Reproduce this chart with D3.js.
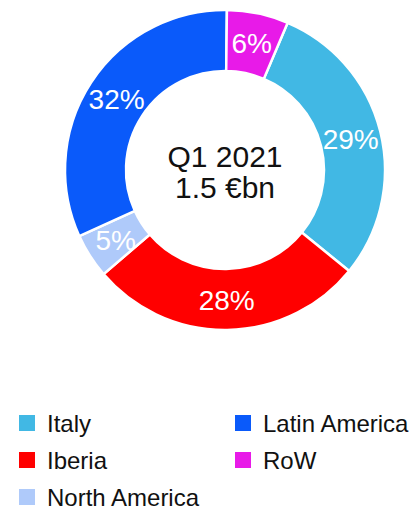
<!DOCTYPE html>
<html>
<head>
<meta charset="utf-8">
<script src="https://cdn.jsdelivr.net/npm/d3@7"></script>
<style>
  body { margin: 0; background: #fff; }
  text { font-family: "Liberation Sans", Arial, sans-serif; }
</style>
</head>
<body>
<div id="chart"></div>
<script>
// data (shares, labels as printed)
var regions = ["Italy", "Iberia", "North America", "Latin America", "RoW"];
var shares = [29.4, 27.8, 4.5, 31.9, 6.2];
var pctLabels = ["29%", "28%", "5%", "32%", "6%"];
var colors = ["#41b8e4", "#ff0000", "#afcafa", "#0a5afa", "#e81ae8"];
var centerLines = ["Q1 2021", "1.5 €bn"];

var width = 411, height = 507;
var cx = 225, cy = 170,
    outerR = 160, innerR = 99;

var svg = d3.select("#chart")
  .append("svg")
    .attr("width", width)
    .attr("height", height);

var color = d3.scaleOrdinal()
    .domain(regions)
    .range(colors);

var data = regions.map(function(r, i) {
  return {name: r, value: shares[i], label: pctLabels[i]};
});

// RoW sits at the top (just right of 12 o'clock), Italy follows it
var total = d3.sum(shares);
var offset = 0.012 + 2 * Math.PI * shares[4] / total;
var pie = d3.pie()
    .sort(null)
    .value(function(d) { return d.value; })
    .startAngle(offset)
    .endAngle(offset + 2 * Math.PI);

var arc = d3.arc()
    .innerRadius(innerR)
    .outerRadius(outerR);

var g = svg.append("g")
    .attr("transform", "translate(" + cx + "," + cy + ")");

var arcs = pie(data);

g.selectAll("path")
  .data(arcs)
  .enter().append("path")
    .attr("d", arc)
    .attr("fill", function(d) { return color(d.data.name); })
    .attr("stroke", "#fff")
    .attr("stroke-width", 2.5);

g.selectAll("text.pct")
  .data(arcs)
  .enter().append("text")
    .attr("class", "pct")
    .attr("transform", function(d) { return "translate(" + arc.centroid(d) + ")"; })
    .attr("dy", "0.36em")
    .attr("text-anchor", "middle")
    .attr("fill", "#fff")
    .style("font-size", "28px")
    .text(function(d) { return d.data.label; });

g.selectAll("text.center")
  .data(centerLines)
  .enter().append("text")
    .attr("class", "center")
    .attr("text-anchor", "middle")
    .attr("x", 0)
    .attr("y", function(d, i) { return -3 + i * 31; })
    .attr("fill", "#111")
    .style("font-size", "30px")
    .text(function(d) { return d; });

// legend, 3 rows per column
var legend = svg.append("g");
var item = legend.selectAll("g")
  .data(regions)
  .enter().append("g")
    .attr("transform", function(d, i) {
      var col = Math.floor(i / 3), row = i % 3;
      return "translate(" + (19 + col * 216) + "," + (415 + row * 37) + ")";
    });

item.append("rect")
    .attr("width", 16)
    .attr("height", 16)
    .attr("fill", function(d) { return color(d); });

item.append("text")
    .attr("x", 28)
    .attr("y", 17)
    .attr("fill", "#111")
    .style("font-size", "24px")
    .text(function(d) { return d; });
</script>
</body>
</html>
